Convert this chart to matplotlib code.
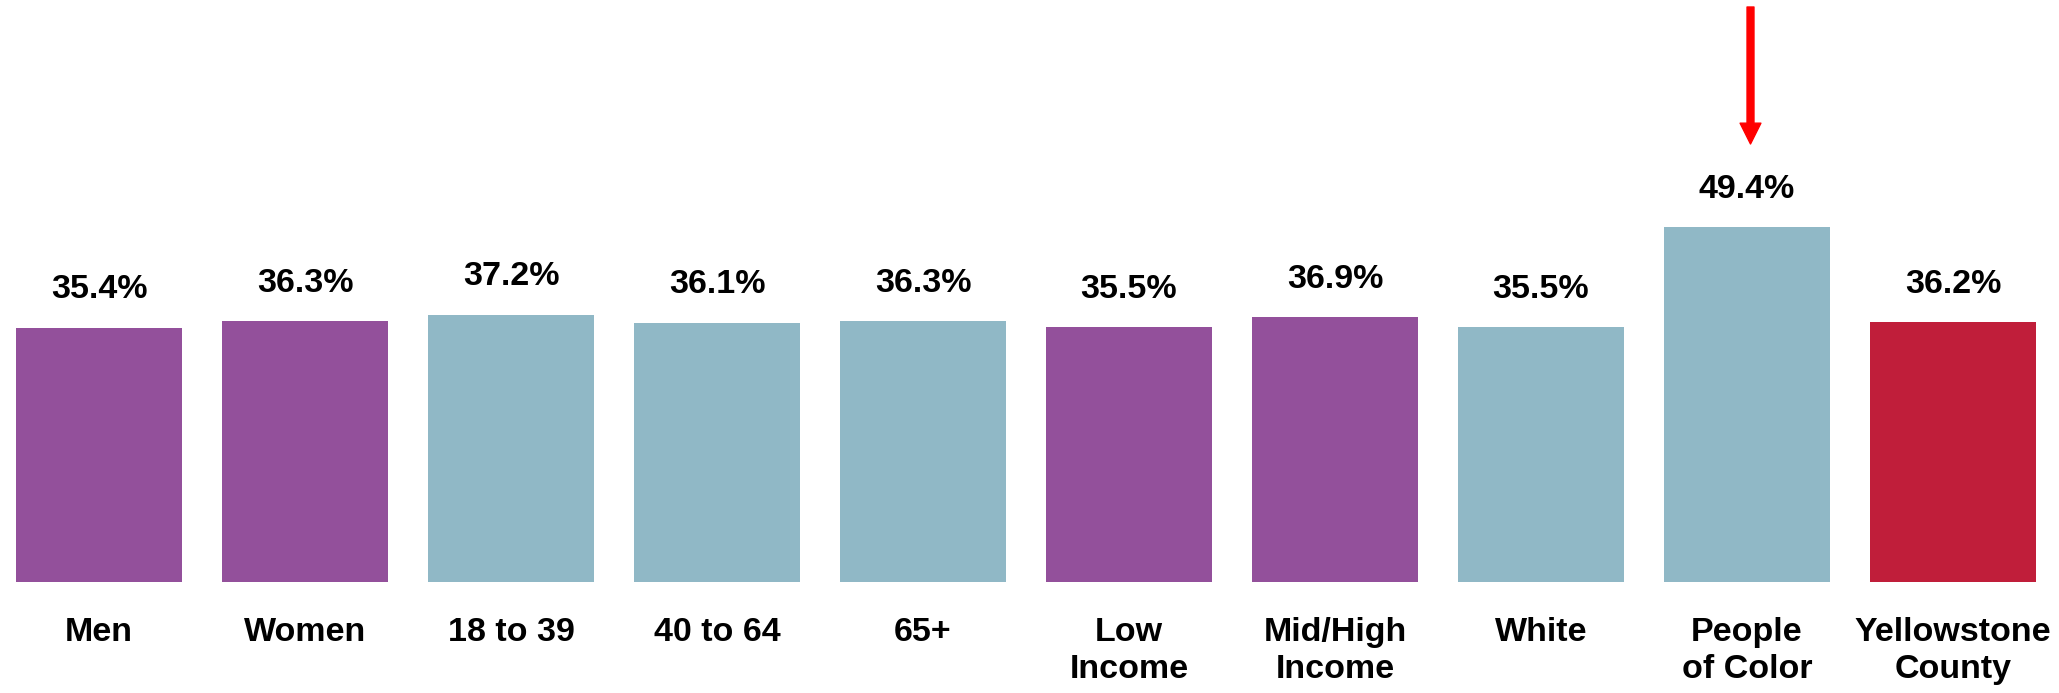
import matplotlib
matplotlib.use("Agg")
import matplotlib.pyplot as plt

categories = ["Men", "Women", "18 to 39", "40 to 64", "65+", "Low\nIncome",
              "Mid/High\nIncome", "White", "People\nof Color", "Yellowstone\nCounty"]
values = [35.4, 36.3, 37.2, 36.1, 36.3, 35.5, 36.9, 35.5, 49.4, 36.2]
PURPLE = "#93509B"
BLUE = "#90B8C6"
RED = "#C01E3A"
colors = [PURPLE, PURPLE, BLUE, BLUE, BLUE, PURPLE, PURPLE, BLUE, BLUE, RED]

plt.rcParams['font.family'] = ['Liberation Sans', 'DejaVu Sans']

W, H = 2059, 693
fig = plt.figure(figsize=(W / 100, H / 100), dpi=100)
bottom_px = 582
ax = fig.add_axes([0, (H - bottom_px) / H, 1, bottom_px / H])
px_per_unit = 355 / 49.4
ax.set_ylim(0, bottom_px / px_per_unit)
ax.set_xlim(-99 / 206, (W - 99) / 206)

x = list(range(len(categories)))
ax.bar(x, values, width=166 / 206, color=colors)

for xi, v in zip(x, values):
    ax.annotate(f"{v:.1f}%", (xi, v), xytext=(0, 16), textcoords="offset points",
                ha="center", va="bottom", fontsize=24.5, fontweight="bold")

ax.set_xticks(x)
ax.set_xticklabels(categories, fontsize=24.5, fontweight="bold", linespacing=1.25)
ax.tick_params(axis="x", length=0, pad=25)
ax.set_yticks([])
for s in ax.spines.values():
    s.set_visible(False)

# red arrow pointing at "People of Color"
ax.annotate("", xy=(8.017, (bottom_px - 144) / px_per_unit),
            xytext=(8.017, (bottom_px - 7) / px_per_unit),
            arrowprops=dict(width=5, headwidth=15, headlength=15, color="red", shrink=0))

fig.savefig("out.png", dpi=100)
